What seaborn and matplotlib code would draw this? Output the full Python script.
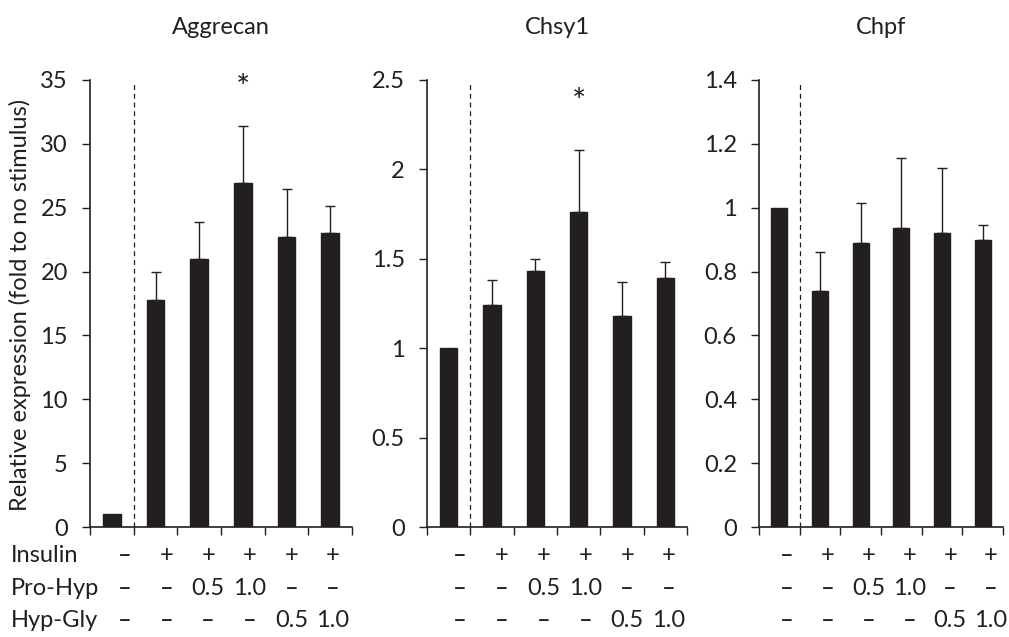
import matplotlib
matplotlib.use("Agg")
import matplotlib.pyplot as plt
import seaborn as sns
import pandas as pd
import numpy as np

sns.set_theme(style="white")
plt.rcParams['font.family'] = ['Lato', 'DejaVu Sans']

groups = ["G1", "G2", "G3", "G4", "G5", "G6"]
titles = ["Aggrecan", "Chsy1", "Chpf"]

aggrecan_mean = [1.0, 17.8, 21.0, 26.9, 22.7, 23.0]
aggrecan_err = [0.0, 2.2, 2.9, 4.5, 3.8, 2.1]
chsy1_mean = [1.0, 1.24, 1.43, 1.76, 1.18, 1.39]
chsy1_err = [0.0, 0.14, 0.07, 0.35, 0.19, 0.09]
chpf_mean = [1.0, 0.74, 0.89, 0.935, 0.92, 0.90]
chpf_err = [0.0, 0.12, 0.125, 0.22, 0.205, 0.045]

ylims = [35, 2.5, 1.4]
ysteps = [5, 0.5, 0.2]
star_y = [34.3, 2.37, None]

insulin = ["–", "+", "+", "+", "+", "+"]
pro_hyp = ["–", "–", "0.5", "1.0", "–", "–"]
hyp_gly = ["–", "–", "–", "–", "0.5", "1.0"]
row_names = ["Insulin", "Pro-Hyp", "Hyp-Gly"]

means = [aggrecan_mean, chsy1_mean, chpf_mean]
errs = [aggrecan_err, chsy1_err, chpf_err]

W, H = 1009, 637
fig = plt.figure(figsize=(W / 100, H / 100), dpi=100)

boxes = [(90, 352), (427, 687), (759, 1003)]
table_x0 = [125, 460, 787]
table_dx = [41.6, 41.8, 40.8]
row_baselines = [562, 595, 627]
top_px, bot_px = 80, 527

fs = 17
col = "#231f20"
for i in range(3):
    l, r = boxes[i]
    ax = fig.add_axes([l / W, 1 - bot_px / H, (r - l) / W, (bot_px - top_px) / H])
    df = pd.DataFrame({"group": groups, "value": means[i]})
    sns.barplot(data=df, x="group", y="value", ax=ax, color=col,
                width=0.4, saturation=1, errorbar=None, edgecolor=col)
    x = np.arange(len(groups))
    m = np.array(means[i])
    e = np.array(errs[i])
    mask = e > 0
    ax.errorbar(x[mask], m[mask], yerr=[np.zeros(mask.sum()), e[mask]],
                fmt="none", ecolor=col, elinewidth=1.0, capsize=3.5, capthick=1.0)
    ax.set_xlim(-0.5, 5.5)
    ax.set_ylim(0, ylims[i])
    ax.set_yticks(np.round(np.arange(0, ylims[i] + 1e-9, ysteps[i]), 2))
    ax.yaxis.set_major_formatter(matplotlib.ticker.FuncFormatter(
        lambda v, p: ("%g" % round(v, 2))))
    ax.set_xticks(np.arange(-0.5, 6, 1.0))
    ax.set_xticklabels([])
    ax.set_xlabel("")
    ax.set_ylabel("")
    for s in ["top", "right"]:
        ax.spines[s].set_visible(False)
    for s in ["left", "bottom"]:
        ax.spines[s].set_color(col)
        ax.spines[s].set_linewidth(1.2)
    ax.tick_params(axis="y", direction="out", length=6, width=1, color=col,
                   labelsize=fs, pad=10, labelcolor=col, left=True)
    ax.tick_params(axis="x", direction="out", length=6, width=1, color=col,
                   bottom=True)
    ax.axvline(0.5, ymin=0, ymax=0.99, color=col, lw=0.9, ls=(0, (4, 3)))
    ax.set_title(titles[i], fontsize=fs, color=col, pad=33)
    if star_y[i] is not None:
        ax.text(3, star_y[i], "*", ha="center", va="center", fontsize=fs + 7,
                color=col)
    for rowvals, ypx in zip([insulin, pro_hyp, hyp_gly], row_baselines):
        for k, v in enumerate(rowvals):
            fam = ['DejaVu Sans'] if v == "–" else ['Lato', 'DejaVu Sans']
            fig.text((table_x0[i] + k * table_dx[i]) / W, 1 - ypx / H, v,
                     ha="center", va="baseline", fontsize=fs, color=col,
                     family=fam)

for name, ypx in zip(row_names, row_baselines):
    fig.text(11 / W, 1 - ypx / H, name, ha="left", va="baseline", fontsize=fs,
             color=col)

fig.text(20 / W, 1 - 305 / H, "Relative expression (fold to no stimulus)",
         rotation=90, ha="center", va="center", fontsize=fs, color=col)

fig.savefig("out.png", dpi=100)
